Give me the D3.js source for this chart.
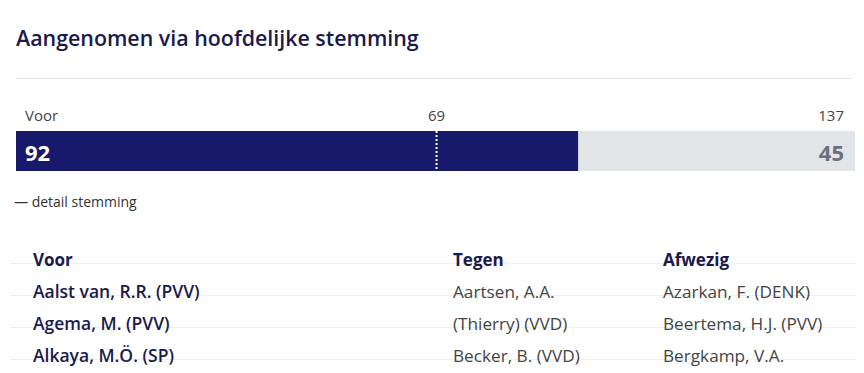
<!DOCTYPE html>
<html><head><meta charset="utf-8">
<script src="https://cdn.jsdelivr.net/npm/d3@7"></script>
<style>body{margin:0;background:#fff}svg{display:block}</style>
</head><body>
<svg id="c" width="864" height="373"></svg>
<script>
const title = "Aangenomen via hoofdelijke stemming";
const categories = ["Voor", "Tegen"];
const values = [92, 45];
const total = 137;
const majority = 69;
const columns = ["Voor", "Tegen", "Afwezig"];
const voorNames = ["Aalst van, R.R. (PVV)", "Agema, M. (PVV)", "Alkaya, M.Ö. (SP)"];
const tegenNames = ["Aartsen, A.A.", "(Thierry) (VVD)", "Becker, B. (VVD)"];
const afwezigNames = ["Azarkan, F. (DENK)", "Beertema, H.J. (PVV)", "Bergkamp, V.A."];

const FONT = "'Open Sans', 'Noto Sans', sans-serif";
const NAVY = "#18196a";
const svg = d3.select("#c");

svg.append("text").attr("x", 16).attr("y", 46).text(title)
  .attr("font-family", FONT).attr("font-size", 21.4).attr("font-weight", 600).attr("fill", "#1b1a4d");
svg.append("line").attr("x1", 16).attr("x2", 852).attr("y1", 78.5).attr("y2", 78.5)
  .attr("stroke", "#e4e4e4");

const x = d3.scaleLinear().domain([0, total]).range([16, 853]);
const barY = 131, barH = 40;

svg.append("rect").attr("x", x(0)).attr("y", barY).attr("width", x(total) - x(0) + 2).attr("height", barH).attr("fill", "#e1e5e8");
svg.append("rect").attr("x", x(0)).attr("y", barY).attr("width", x(values[0]) - x(0)).attr("height", barH).attr("fill", NAVY);
svg.append("line").attr("x1", x(majority) - 1).attr("x2", x(majority) - 1).attr("y1", barY).attr("y2", barY + barH)
  .attr("stroke", "#fff").attr("stroke-width", 2).attr("stroke-dasharray", "2,2");

svg.append("text").attr("x", 25).attr("y", 121).text(categories[0])
  .attr("font-family", FONT).attr("font-size", 15).attr("fill", "#444");
svg.append("text").attr("x", x(majority) - 1).attr("y", 121).attr("text-anchor", "middle").text(majority)
  .attr("font-family", FONT).attr("font-size", 15).attr("fill", "#444");
svg.append("text").attr("x", 844).attr("y", 121).attr("text-anchor", "end").text(total)
  .attr("font-family", FONT).attr("font-size", 15).attr("fill", "#444");

svg.append("text").attr("x", 25).attr("y", 161).text(values[0])
  .attr("font-family", FONT).attr("font-size", 22).attr("font-weight", 700).attr("fill", "#fff");
svg.append("text").attr("x", 844).attr("y", 161).attr("text-anchor", "end").text(values[1])
  .attr("font-family", FONT).attr("font-size", 22).attr("font-weight", 700).attr("fill", "#6b7079");

svg.append("text").attr("x", 14).attr("y", 207).text("— detail stemming")
  .attr("font-family", FONT).attr("font-size", 14).attr("fill", "#333");

// table
const colX = [33, 453, 663];
const rowY = d3.range(4).map(i => 266 + i * 32);
rowY.forEach(y => {
  svg.append("line").attr("x1", 10).attr("x2", 855).attr("y1", y - 2.5).attr("y2", y - 2.5)
    .attr("stroke", "#efefef");
});
columns.forEach((c, i) => {
  svg.append("text").attr("x", colX[i]).attr("y", rowY[0]).text(c)
    .attr("font-family", FONT).attr("font-size", 17).attr("font-weight", 700).attr("fill", "#1b1a4d");
});
const lists = [voorNames, tegenNames, afwezigNames];
lists.forEach((list, ci) => {
  list.forEach((n, ri) => {
    svg.append("text").attr("x", colX[ci]).attr("y", rowY[ri + 1]).text(n)
      .attr("font-family", FONT).attr("font-size", ci === 0 ? 17.5 : 17.2)
      .attr("font-weight", ci === 0 ? 600 : 400)
      .attr("fill", ci === 0 ? "#1b1a4d" : "#444");
  });
});
</script>
</body></html>
